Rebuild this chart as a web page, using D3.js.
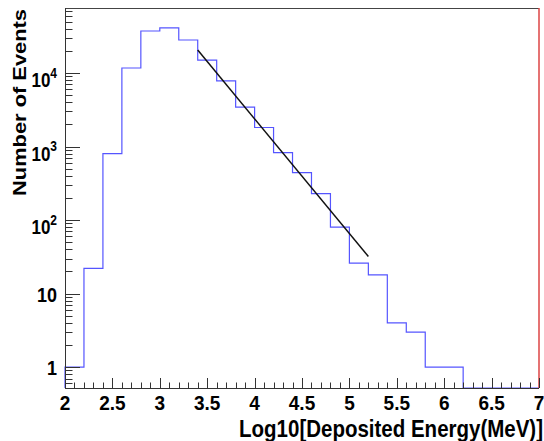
<!DOCTYPE html>
<html>
<head>
<meta charset="utf-8">
<script src="https://cdn.jsdelivr.net/npm/d3@7"></script>
<style>
  html, body { margin: 0; padding: 0; background: #fff; }
  text { font-family: "Liberation Sans", Arial, sans-serif; font-weight: bold; fill: #000; }
</style>
</head>
<body>
<div id="container"></div>
<script>
// Histogram bins (lower edges, width 0.2) and counts
const binEdges = [2.0, 2.2, 2.4, 2.6, 2.8, 3.0, 3.2, 3.4, 3.6, 3.8, 4.0, 4.2, 4.4, 4.6, 4.8,
                  5.0, 5.2, 5.4, 5.6, 5.8, 6.0, 6.2, 6.4, 6.6, 6.8, 7.0];
const binCounts = [1, 22, 800, 11700, 37300, 41000, 28100, 15000, 7800, 3440, 1815, 829, 443, 229, 80,
                   26, 18, 4, 3, 1, 1, 0, 0, 0, 0];

// Exponential fit, drawn as a straight line on the log axis
const fitX = [3.4, 5.2];
const fitY = [20500, 32];

const xTickLabels = [2, 2.5, 3, 3.5, 4, 4.5, 5, 5.5, 6, 6.5, 7];
const yDecades = [1, 10, 100, 1000, 10000];

const CANVAS = { width: 544, height: 441 };
const FRAME = { left: 65, right: 539, top: 8, bottom: 388 };
const STRETCH = 1.15; // the picture is a bit taller than wide

const x = d3.scaleLinear().domain([2, 7]).range([FRAME.left, FRAME.right]);
const y = d3.scaleLog().domain([0.52, 76600]).range([FRAME.bottom, FRAME.top]);
const yv = v => v > 0 ? y(v) : FRAME.bottom;

const svg = d3.create("svg")
    .attr("width", CANVAS.width).attr("height", CANVAS.height)
    .attr("viewBox", [0, 0, CANVAS.width, CANVAS.height]);

// frame: top line and axis lines
svg.append("line")
    .attr("x1", FRAME.left).attr("x2", FRAME.right)
    .attr("y1", FRAME.top + 0.5).attr("y2", FRAME.top + 0.5)
    .attr("stroke", "#444").attr("stroke-width", 1);

// histogram step line
const pts = [[x(binEdges[0]), FRAME.bottom]];
binCounts.forEach((c, i) => {
    pts.push([x(binEdges[i]), yv(c)]);
    pts.push([x(binEdges[i + 1]), yv(c)]);
});
svg.append("path")
    .attr("d", d3.line()(pts))
    .attr("fill", "none").attr("stroke", "#5555ff").attr("stroke-width", 1.2);

// fit line
svg.append("path")
    .attr("d", d3.line().x(d => x(d[0])).y(d => y(d[1]))(fitX.map((v, i) => [v, fitY[i]])))
    .attr("fill", "none").attr("stroke", "#111").attr("stroke-width", 1.5);

// right-hand red line
svg.append("line")
    .attr("x1", FRAME.right).attr("x2", FRAME.right)
    .attr("y1", FRAME.top).attr("y2", FRAME.bottom)
    .attr("stroke", "#dd4444").attr("stroke-width", 1.5);

// x axis
const gx = svg.append("g").attr("stroke", "#333").attr("stroke-width", 1);
gx.append("line").attr("x1", FRAME.left).attr("x2", FRAME.right)
    .attr("y1", FRAME.bottom + 0.5).attr("y2", FRAME.bottom + 0.5);
d3.range(20, 71).map(v => v / 10).forEach(v => {
    const major = Math.abs(v * 2 - Math.round(v * 2)) < 1e-6;
    const px = Math.round(x(v)) + 0.5;
    gx.append("line").attr("x1", px).attr("x2", px)
        .attr("y1", FRAME.bottom).attr("y2", FRAME.bottom - (major ? 10 : 5.5));
});
svg.append("g").selectAll("text").data(xTickLabels).join("text")
    .attr("text-anchor", "middle").attr("font-size", 19)
    .attr("transform", d => `translate(${x(d)},410) scale(1,1.05)`)
    .text(d => d);

// y axis
const gy = svg.append("g").attr("stroke", "#333").attr("stroke-width", 1);
gy.append("line").attr("x1", FRAME.left + 0.5).attr("x2", FRAME.left + 0.5)
    .attr("y1", FRAME.top).attr("y2", FRAME.bottom);
const [ymin, ymax] = y.domain();
for (let e = -1; e <= 4; e++) {
    for (let m = 1; m <= 9; m++) {
        const v = m * Math.pow(10, e);
        if (v < ymin || v > ymax) continue;
        const py = Math.round(y(v)) + 0.5;
        gy.append("line").attr("x1", FRAME.left).attr("x2", FRAME.left + (m === 1 ? 15 : 7.5))
            .attr("y1", py).attr("y2", py);
    }
}
const gyl = svg.append("g");
yDecades.forEach(v => {
    const e = Math.round(Math.log10(v));
    if (e <= 1) {
        gyl.append("text").attr("text-anchor", "end").attr("font-size", 18)
            .attr("transform", `translate(57,${y(v) + 8}) scale(1,${STRETCH})`)
            .text(v);
    } else {
        const t = gyl.append("text").attr("text-anchor", "end")
            .attr("transform", `translate(57,${y(v) + 14}) scale(1,${STRETCH})`);
        t.append("tspan").attr("font-size", 17).text("10");
        t.append("tspan").attr("font-size", 12).attr("dy", -8).text(e);
    }
});

// titles
svg.append("text").attr("text-anchor", "end").attr("font-size", 20.5)
    .attr("transform", `translate(543,437) scale(1,${STRETCH})`)
    .text("Log10[Deposited Energy(MeV)]");
svg.append("text").attr("text-anchor", "end").attr("font-size", 19)
    .attr("transform", `translate(26,9) rotate(-90) scale(${STRETCH},1)`)
    .text("Number of Events");

document.getElementById("container").append(svg.node());
</script>
</body>
</html>
